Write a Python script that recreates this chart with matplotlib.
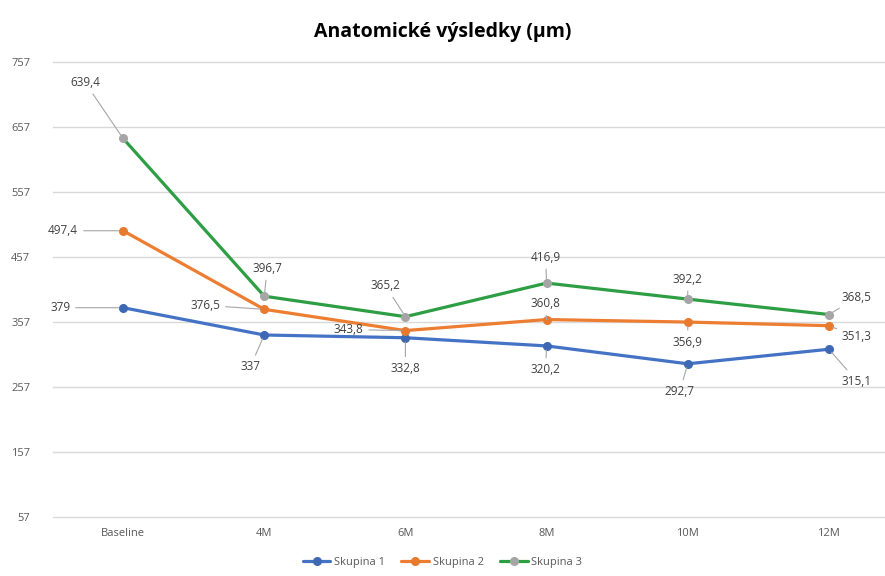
import matplotlib
matplotlib.use("Agg")
import matplotlib.pyplot as plt

categories = ["Baseline", "4M", "6M", "8M", "10M", "12M"]
skupina1 = [379, 337, 332.8, 320.2, 292.7, 315.1]
skupina2 = [497.4, 376.5, 343.8, 360.8, 356.9, 351.3]
skupina3 = [639.4, 396.7, 365.2, 416.9, 392.2, 368.5]
yticks = [57, 157, 257, 357, 457, 557, 657, 757]

names = ["Skupina 1", "Skupina 2", "Skupina 3"]
series = [skupina1, skupina2, skupina3]
line_colors = ["#4472C4", "#ED7D31", "#2E9E44"]
marker_colors = ["#3F68B4", "#E87A30", "#A5A5A5"]

# label offsets (pixels) per series
offsets = [
    [(-63, 0), (-14, -32), (0, -31), (-1, -24), (-8, -28), (28, -32)],
    [(-60, 0), (-59, 4), (-57, 1), (-1, 16), (0, -20), (28, -11)],
    [(-38, 56), (3, 28), (-20, 31), (-1, 26), (0, 20), (28, 17)],
]

def fmt(v):
    return ("%g" % v).replace(".", ",")

fig = plt.figure(figsize=(8.85, 5.76), dpi=100)
ax = fig.add_axes([52.5 / 885, 1 - 517 / 576, 847 / 885, 455 / 576])

x = list(range(len(categories)))
for vals, name, lc, mc, offs in zip(series, names, line_colors, marker_colors, offsets):
    ax.plot(x, vals, color=lc, lw=2.3, marker="o", markersize=5.5,
            markerfacecolor=mc, markeredgecolor=mc, label=name, zorder=3,
            solid_capstyle="round")
    for xi, v, (dx, dy) in zip(x, vals, offs):
        ax.annotate(fmt(v), (xi, v), xytext=(dx, dy), textcoords="offset pixels",
                    ha="center", va="center", fontsize=8.5, color="#404040",
                    family="Open Sans",
                    arrowprops=dict(arrowstyle="-", color="#A6A6A6", lw=0.8,
                                    shrinkA=2, shrinkB=3),
                    zorder=4)

ax.set_ylim(57, 757)
ax.set_yticks(yticks)
ax.set_xlim(-0.5, 5.5)
ax.set_xticks(x)
ax.set_xticklabels(categories)
ax.grid(axis="y", color="#D9D9D9", lw=1)
for gl in ax.get_ygridlines():
    gl.set_clip_on(False)
ax.set_axisbelow(True)
for s in ax.spines.values():
    s.set_visible(False)
ax.tick_params(axis="both", length=0, labelsize=8, labelcolor="#595959")
for lab in ax.get_xticklabels() + ax.get_yticklabels():
    lab.set_family("Open Sans")
ax.tick_params(axis="x", pad=8)
ax.tick_params(axis="y", pad=16)

fig.text(0.5, 0.945, "Anatomické výsledky (µm)", ha="center", va="center",
         fontsize=14, fontweight="bold", family="Open Sans", color="#000000")

leg = fig.legend(loc="center", bbox_to_anchor=(0.5, 1 - 562 / 576), ncol=3,
                 frameon=False, handlelength=2.5, columnspacing=1.5,
                 handletextpad=0.3, prop={"family": "Open Sans", "size": 8})
for t in leg.get_texts():
    t.set_color("#595959")

fig.savefig("out.png", dpi=100)
